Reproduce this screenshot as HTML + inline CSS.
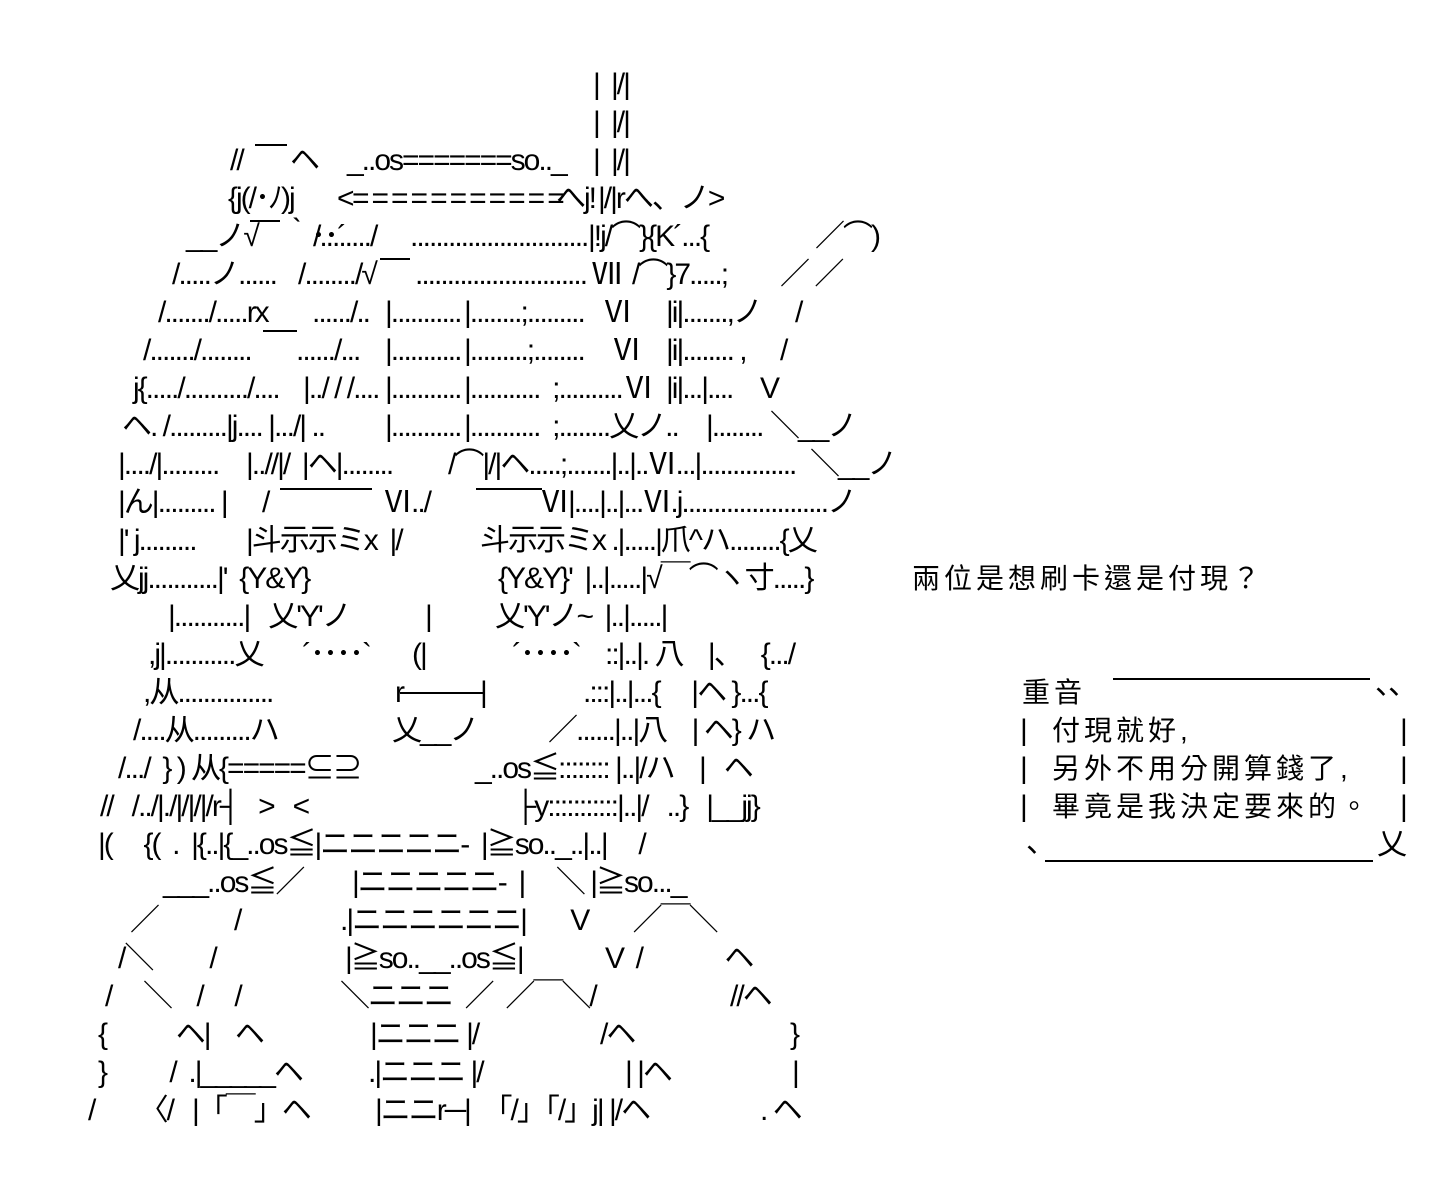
<!DOCTYPE html>
<html><head><meta charset="utf-8">
<style>
html,body{margin:0;padding:0;background:#fff;}
body{width:1440px;height:1204px;position:relative;overflow:hidden;}
.l{position:absolute;white-space:pre;font-family:"Liberation Sans","Noto Sans CJK JP",sans-serif;font-size:30px;line-height:36px;letter-spacing:-2px;color:#000;}
.t{position:absolute;white-space:pre;font-family:"Liberation Sans","Noto Sans CJK TC",sans-serif;font-size:28px;line-height:36px;letter-spacing:4px;color:#000;}
.h{position:absolute;height:2px;background:#000;}
</style></head><body>
<div class="l" style="left:593px;top:67px">|</div><div class="l" style="left:611px;top:67px">|/|</div>
<div class="l" style="left:593px;top:105px">|</div><div class="l" style="left:611px;top:105px">|/|</div>
<div class="l" style="left:230px;top:143px">//</div>
<div class="h" style="left:255px;top:144px;width:32px"></div>
<div class="l" style="left:290px;top:143px">ヘ</div>
<div class="l" style="left:347px;top:143px">_..os=======so.._</div>
<div class="l" style="left:593px;top:143px">|</div><div class="l" style="left:611px;top:143px">|/|</div>
<div class="l" style="left:228px;top:181px">{j(/･ﾉ)j</div>
<div class="l" style="left:337px;top:181px">&lt;</div>
<div class="l" style="left:352px;top:181px;letter-spacing:2px">===========</div>
<div class="l" style="left:556px;top:181px">へj!</div>
<div class="l" style="left:598px;top:181px">|/|rへ、ノ&gt;</div>
<div class="l" style="left:186px;top:219px">__ノ√</div>
<div class="h" style="left:250px;top:220px;width:30px"></div>
<div class="l" style="left:283px;top:219px">｀･･´</div>
<div class="l" style="left:313px;top:219px">/......../</div>
<div class="l" style="left:410px;top:219px">............................</div>
<div class="l" style="left:588px;top:219px">|!j/⌒}{K´...{</div>
<div class="l" style="left:815px;top:219px">／⌒)</div>
<div class="l" style="left:172px;top:257px">/.....ノ......</div>
<div class="l" style="left:298px;top:257px">/......../√</div>
<div class="h" style="left:380px;top:258px;width:30px"></div>
<div class="l" style="left:415px;top:257px">...........................</div>
<div class="l" style="left:592px;top:257px">Ⅶ</div>
<div class="l" style="left:632px;top:257px">/⌒}7.....;</div>
<div class="l" style="left:780px;top:257px">／ ／</div>
<div class="l" style="left:158px;top:295px">/......./.....rx</div>
<div class="h" style="left:263px;top:330px;width:34px"></div>
<div class="l" style="left:312px;top:295px">....../..</div>
<div class="l" style="left:385px;top:295px">|...........</div>
<div class="l" style="left:464px;top:295px">|........;.........</div>
<div class="l" style="left:603px;top:295px">Ⅵ</div>
<div class="l" style="left:666px;top:295px">|i|.......,ノ</div>
<div class="l" style="left:795px;top:295px">/</div>
<div class="l" style="left:143px;top:333px">/......./........</div>
<div class="l" style="left:296px;top:333px">....../...</div>
<div class="l" style="left:385px;top:333px">|...........</div>
<div class="l" style="left:464px;top:333px">|.........;........</div>
<div class="l" style="left:612px;top:333px">Ⅵ</div>
<div class="l" style="left:666px;top:333px">|i|........ ,</div>
<div class="l" style="left:780px;top:333px">/</div>
<div class="l" style="left:133px;top:371px">j{...../........../....</div>
<div class="l" style="left:303px;top:371px">|../ / /....</div>
<div class="l" style="left:385px;top:371px">|...........</div>
<div class="l" style="left:464px;top:371px">|...........  ;..........</div>
<div class="l" style="left:624px;top:371px">Ⅵ</div>
<div class="l" style="left:666px;top:371px">|i|...|....</div>
<div class="l" style="left:760px;top:371px">V</div>
<div class="l" style="left:122px;top:409px">ヘ. /.........|j.... |.../| ..</div>
<div class="l" style="left:385px;top:409px">|...........</div>
<div class="l" style="left:464px;top:409px">|...........  ;........乂ノ..</div>
<div class="l" style="left:706px;top:409px">|........</div>
<div class="l" style="left:770px;top:409px">＼__ノ</div>
<div class="l" style="left:118px;top:447px">|..../|.........</div>
<div class="l" style="left:246px;top:447px">|..//|/  |ヘ|........</div>
<div class="l" style="left:448px;top:447px">/⌒|/|ヘ.....;.......|..|..Ⅵ...|...............</div>
<div class="l" style="left:810px;top:447px">＼__ノ</div>
<div class="l" style="left:118px;top:485px">|ん|......... |</div>
<div class="l" style="left:262px;top:485px">/</div>
<div class="h" style="left:280px;top:488px;width:92px"></div>
<div class="l" style="left:383px;top:485px">Ⅵ../</div>
<div class="h" style="left:476px;top:488px;width:66px"></div>
<div class="l" style="left:540px;top:485px">Ⅵ|....|..|...Ⅵ.j.......................ノ</div>
<div class="l" style="left:118px;top:523px">|' j.........</div>
<div class="l" style="left:246px;top:523px">|斗示示ミx  |/</div>
<div class="l" style="left:480px;top:523px">斗示示ミx .|.....|爪^ハ........{乂</div>
<div class="l" style="left:110px;top:561px">乂jj...........|'  {Y&amp;Y}</div>
<div class="l" style="left:498px;top:561px">{Y&amp;Y}'  |..|.....|√￣⌒ヽ寸.....}</div>
<div class="l" style="left:168px;top:599px">|...........|   乂'Y'ノ</div>
<div class="l" style="left:425px;top:599px">|</div>
<div class="l" style="left:495px;top:599px">乂'Y'ノ~  |..|.....|</div>
<div class="l" style="left:148px;top:637px">,j|...........乂</div>
<div class="l" style="left:302px;top:637px">´････`</div>
<div class="l" style="left:412px;top:637px">(|</div>
<div class="l" style="left:512px;top:637px">´････`</div>
<div class="l" style="left:605px;top:637px">::|..|. 八    |、   {.../</div>
<div class="l" style="left:143px;top:675px">,从...............</div>
<div class="l" style="left:395px;top:675px">r</div>
<div class="h" style="left:400px;top:692px;width:85px"></div>
<div class="l" style="left:480px;top:675px">|</div>
<div class="l" style="left:583px;top:675px">.:::|..|...{     |ヘ }...{</div>
<div class="l" style="left:133px;top:713px">/....从.........ハ</div>
<div class="l" style="left:392px;top:713px">乂__ノ</div>
<div class="l" style="left:548px;top:713px">／......|..|八    | ヘ} ハ</div>
<div class="l" style="left:118px;top:751px">/.../  } ) 从{=====⊆⊇</div>
<div class="l" style="left:475px;top:751px">_..os≦:::::::: |..|/ハ    |   ヘ</div>
<div class="l" style="left:100px;top:789px">//   /../|./|/|/|/r┤   &gt;   &lt;</div>
<div class="l" style="left:515px;top:789px">├y:::::::::::|..|/   ..}   |__jj}</div>
<div class="l" style="left:98px;top:827px">|(     {(  .  |{..|{_..os≦|ニニニニニ-  |≧so.._..|..|     /</div>
<div class="l" style="left:163px;top:865px">___..os≦／</div>
<div class="l" style="left:352px;top:865px">|ニニニニニ-  |     ＼ |≧so..._</div>
<div class="l" style="left:130px;top:903px">／            /</div>
<div class="l" style="left:340px;top:903px">.|ニニニニニニ|       V       ／￣＼</div>
<div class="l" style="left:118px;top:941px">/＼         /</div>
<div class="l" style="left:345px;top:941px">|≧so..__..os≦|</div>
<div class="l" style="left:605px;top:941px">V  /             ヘ</div>
<div class="l" style="left:105px;top:979px">/     ＼    /     /</div>
<div class="l" style="left:340px;top:979px">＼ニニニ  ／  ／￣＼/</div>
<div class="l" style="left:730px;top:979px">//ヘ</div>
<div class="l" style="left:98px;top:1017px">{           ヘ|    ヘ</div>
<div class="l" style="left:370px;top:1017px">|ニニニ |/</div>
<div class="l" style="left:600px;top:1017px">/ヘ</div>
<div class="l" style="left:790px;top:1017px">}</div>
<div class="l" style="left:98px;top:1055px">}          /  .|_____ヘ</div>
<div class="l" style="left:368px;top:1055px">.|ニニニ |/</div>
<div class="l" style="left:625px;top:1055px">| |ヘ</div>
<div class="l" style="left:792px;top:1055px">|</div>
<div class="l" style="left:88px;top:1093px">/       〈/   |「￣」ヘ</div>
<div class="l" style="left:375px;top:1093px">|ニニr─|  「/」「/」j| |/ヘ</div>
<div class="l" style="left:760px;top:1093px">. ヘ</div>

<div class="t" style="left:912px;top:561px">兩位是想刷卡還是付現？</div>

<div class="t" style="left:1022px;top:675px">重音</div>
<div class="h" style="left:1113px;top:678px;width:257px"></div>
<div class="l" style="left:1375px;top:667px">、、</div>
<div class="l" style="left:1020px;top:713px">|</div>
<div class="l" style="left:1020px;top:751px">|</div>
<div class="l" style="left:1020px;top:789px">|</div>
<div class="l" style="left:1400px;top:713px">|</div>
<div class="l" style="left:1400px;top:751px">|</div>
<div class="l" style="left:1400px;top:789px">|</div>
<div class="t" style="left:1052px;top:713px">付現就好,</div>
<div class="t" style="left:1052px;top:751px">另外不用分開算錢了,</div>
<div class="t" style="left:1052px;top:789px">畢竟是我決定要來的。</div>
<div class="l" style="left:1026px;top:825px">、</div>
<div class="h" style="left:1045px;top:860px;width:328px"></div>
<div class="l" style="left:1377px;top:827px">乂</div>
</body></html>
